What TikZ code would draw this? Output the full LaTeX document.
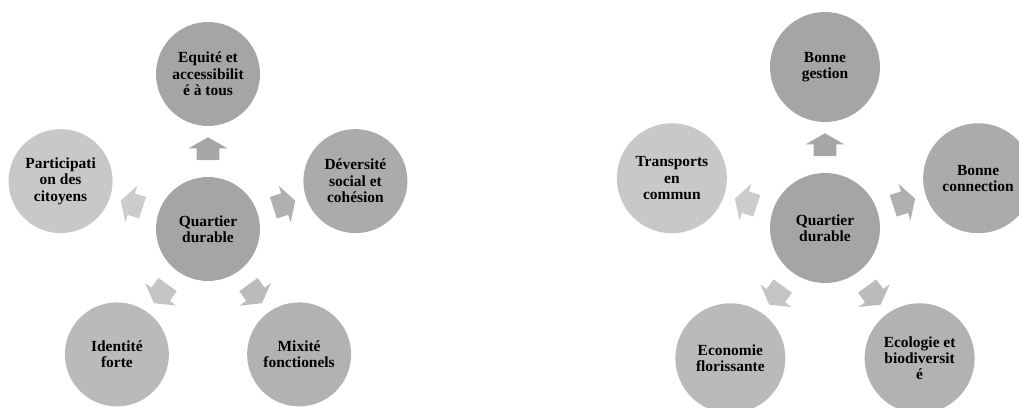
\documentclass[tikz,border=0pt]{standalone}
\usepackage{fontspec}
\setmainfont{Liberation Serif}
\usetikzlibrary{shapes.arrows}
\definecolor{grayA}{RGB}{165, 165, 165}
\definecolor{grayB}{RGB}{171, 171, 171}
\definecolor{grayC}{RGB}{178, 178, 178}
\definecolor{grayD}{RGB}{186, 186, 186}
\definecolor{grayE}{RGB}{200, 200, 200}
\definecolor{arrowA}{RGB}{166, 166, 166}
\definecolor{arrowB}{RGB}{176, 176, 176}
\definecolor{arrowC}{RGB}{187, 187, 187}
\definecolor{arrowD}{RGB}{196, 196, 196}
\definecolor{arrowE}{RGB}{204, 204, 204}

\begin{document}
\begin{tikzpicture}[
      bubble/.style={circle, inner sep=0pt, align=center, font=\bfseries\fontsize{11}{11.7}\selectfont},
      spoke/.style={single arrow, inner xsep=0pt, inner ysep=0.275cm, minimum height=0.575cm,
        single arrow head extend=0.2cm, single arrow tip angle=120}
    ]
      \useasboundingbox (0,0) rectangle (25.475,10.175);

      % Left cycle
      \begin{scope}[shift={(5.2,4.45)}, bubble/.append style={minimum size=2.6cm}]
        \node[bubble, fill=grayA] (qa) at (0,0) {Quartier\\durable};
        \node[bubble, fill=grayA] (equite) at (90:3.875) {Equité et\\accessibilit\\é à tous};
        \node[bubble, fill=grayB] (diversite) at (18:3.875) {Déversité\\social et\\cohésion};
        \node[bubble, fill=grayC] (mixite) at (-54:3.875) {Mixité\\fonctionels};
        \node[bubble, fill=grayD] (identite) at (-126:3.875) {Identité\\forte};
        \node[bubble, fill=grayE] (participation) at (162:3.875) {Participati\\on des\\citoyens};

        % Arrows
        \node[spoke, fill=arrowA, rotate=90] (sa1) at (90:1.925) {};
        \node[spoke, fill=arrowB, rotate=18] (sa2) at (18:1.925) {};
        \node[spoke, fill=arrowC, rotate=-54] (sa3) at (-54:1.925) {};
        \node[spoke, fill=arrowD, rotate=-126] (sa4) at (-126:1.925) {};
        \node[spoke, fill=arrowE, rotate=162] (sa5) at (162:1.925) {};
      \end{scope}

      % Right cycle
      \begin{scope}[shift={(20.625,4.475)}, bubble/.append style={minimum size=2.75cm}]
        \node[bubble, fill=grayA] (qb) at (0,0) {Quartier\\durable};
        \node[bubble, fill=grayA] (gestion) at (90:4.025) {Bonne\\gestion};
        \node[bubble, fill=grayB] (connection) at (18:4.025) {Bonne\\connection};
        \node[bubble, fill=grayC] (ecologie) at (-54:4.025) {Ecologie et\\biodiversit\\é};
        \node[bubble, fill=grayD] (economie) at (-126:4.025) {Economie\\florissante};
        \node[bubble, fill=grayE] (transports) at (162:4.025) {Transports\\en\\commun};

        % Arrows
        \node[spoke, fill=arrowA, rotate=90] (sb1) at (90:2.0) {};
        \node[spoke, fill=arrowB, rotate=18] (sb2) at (18:2.0) {};
        \node[spoke, fill=arrowC, rotate=-54] (sb3) at (-54:2.0) {};
        \node[spoke, fill=arrowD, rotate=-126] (sb4) at (-126:2.0) {};
        \node[spoke, fill=arrowE, rotate=162] (sb5) at (162:2.0) {};
      \end{scope}
    \end{tikzpicture}
\end{document}
